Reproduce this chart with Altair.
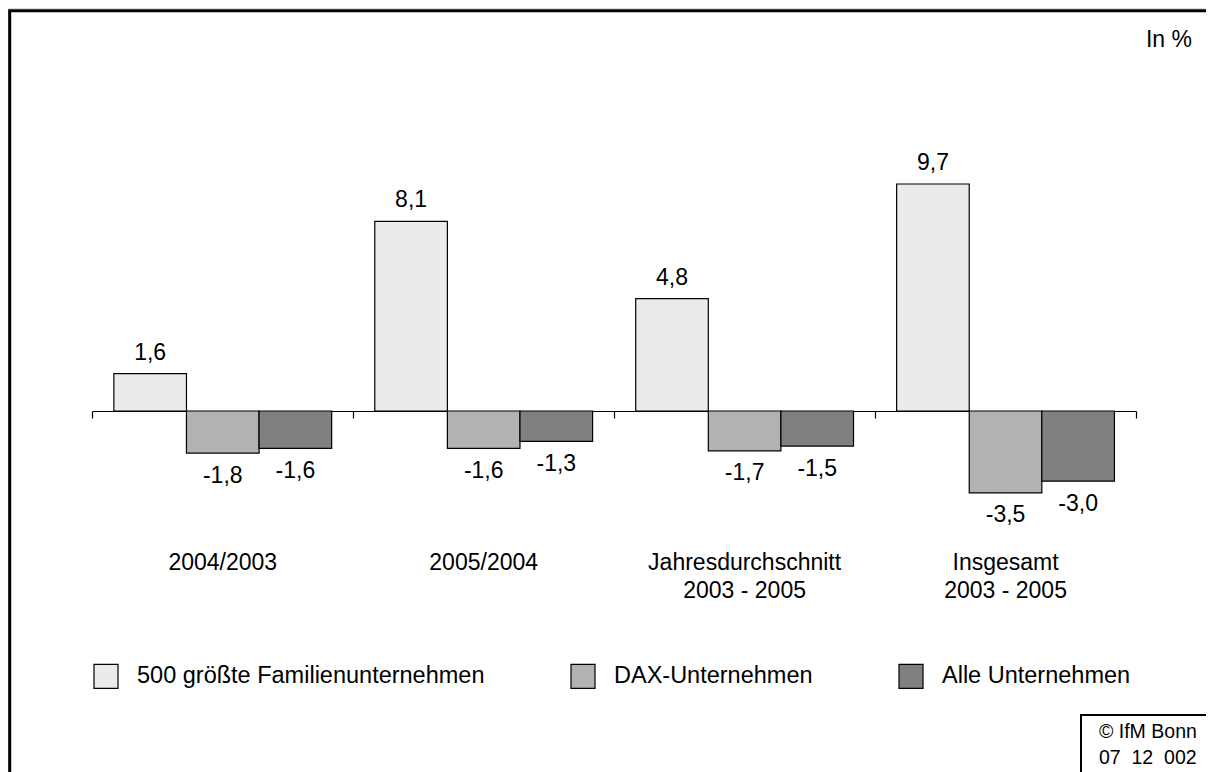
import altair as alt
import pandas as pd

categories = ["2004/2003", "2005/2004", "Jahresdurchschnitt\n2003 - 2005", "Insgesamt\n2003 - 2005"]
series = ["500 größte Familienunternehmen", "DAX-Unternehmen", "Alle Unternehmen"]
familien = [1.6, 8.1, 4.8, 9.7]
dax = [-1.8, -1.6, -1.7, -3.5]
alle = [-1.6, -1.3, -1.5, -3.0]
colors = ["#EBEBEB", "#B2B2B2", "#808080"]
unit_label = "In %"
copyright_text = "© IfM Bonn\n07 \u00a012 \u00a0002"

rows = []
for s, vals in zip(series, [familien, dax, alle]):
    for c, v in zip(categories, vals):
        rows.append({"group": c, "series": s, "value": v})
df = pd.DataFrame(rows)
cat_df = pd.DataFrame({"group": categories})

W, H = 1198, 764
ZERO = 403
PX_PER_UNIT = 23.4
FONT = "Liberation Sans"
FS = 23

x_enc = alt.X(
    "group:N", sort=categories,
    scale=alt.Scale(range=[84.3, 1128], paddingInner=0, paddingOuter=0),
    axis=alt.Axis(orient="bottom", offset=ZERO - H, labels=False, title=None,
                  domainColor="black", domainWidth=1.2, tickColor="black",
                  tickWidth=1.2, tickSize=7, tickBand="extent", grid=False),
)
xoff_enc = alt.XOffset("series:N", sort=series,
                       scale=alt.Scale(paddingInner=0, paddingOuter=0.297))
y_enc = alt.Y("value:Q",
              scale=alt.Scale(domain=[-(H - ZERO) / PX_PER_UNIT, ZERO / PX_PER_UNIT],
                              nice=False, zero=False),
              axis=None)

base = alt.Chart(df)

bars = base.mark_bar(stroke="black", strokeWidth=1.2).encode(
    x=x_enc, xOffset=xoff_enc, y=y_enc,
    color=alt.Color("series:N", sort=series,
                    scale=alt.Scale(domain=series, range=colors),
                    legend=alt.Legend(orient="none", legendX=85, legendY=655,
                                      direction="horizontal", title=None,
                                      symbolType="square", symbolSize=576,
                                      symbolStrokeColor="black", symbolStrokeWidth=1.2,
                                      symbolOpacity=1, labelFontSize=23.5, labelFont=FONT,
                                      labelColor="black", labelOffset=18,
                                      columnPadding=83, padding=0, labelLimit=600)),
)

lab_expr = "replace(replace(format(datum.value, '.1f'), '.', ','), '\u2212', '-')"
pos_labels = base.transform_filter("datum.value >= 0").transform_calculate(
    lab=lab_expr
).mark_text(baseline="alphabetic", dy=-14, fontSize=FS, font=FONT, color="black").encode(
    x=x_enc, xOffset=xoff_enc, y=y_enc, text="lab:N"
)
neg_labels = base.transform_filter("datum.value < 0").transform_calculate(
    lab=lab_expr
).mark_text(baseline="alphabetic", dy=29.5, fontSize=FS, font=FONT, color="black").encode(
    x=x_enc, xOffset=xoff_enc, y=y_enc, text="lab:N"
)

cat_labels = alt.Chart(cat_df).mark_text(
    baseline="alphabetic", lineBreak="\n", lineHeight=27.5, fontSize=FS, font=FONT,
    color="black"
).encode(x=x_enc, y=alt.value(562), text="group:N")

one = alt.Data(values=[{"k": 1}])

frame = alt.Chart(one).mark_rect(fillOpacity=0, stroke="black", strokeWidth=3).encode(
    x=alt.value(1.7), x2=alt.value(W + 20), y=alt.value(2.8), y2=alt.value(H + 20)
)

unit = alt.Chart(one).mark_text(
    align="right", baseline="alphabetic", fontSize=FS, font=FONT, color="black", text=unit_label
).encode(x=alt.value(1184), y=alt.value(39))

cbox = alt.Chart(one).mark_rect(fillOpacity=0, stroke="black", strokeWidth=2).encode(
    x=alt.value(1073), x2=alt.value(W + 20), y=alt.value(707), y2=alt.value(H + 20)
)
ctext = alt.Chart(one).mark_text(
    align="left", baseline="alphabetic", lineBreak="\n", lineHeight=26, fontSize=19.5,
    font=FONT, color="black", text=copyright_text
).encode(x=alt.value(1091), y=alt.value(730))

chart = alt.layer(frame, bars, pos_labels, neg_labels, cat_labels, unit, cbox, ctext).properties(
    width=W, height=H, autosize=alt.AutoSizeParams(type="none"), padding=0,
    background="white"
).configure_view(stroke="transparent").configure(font=FONT)

chart.save("out.html", embed_options={"renderer": "svg", "actions": False})
